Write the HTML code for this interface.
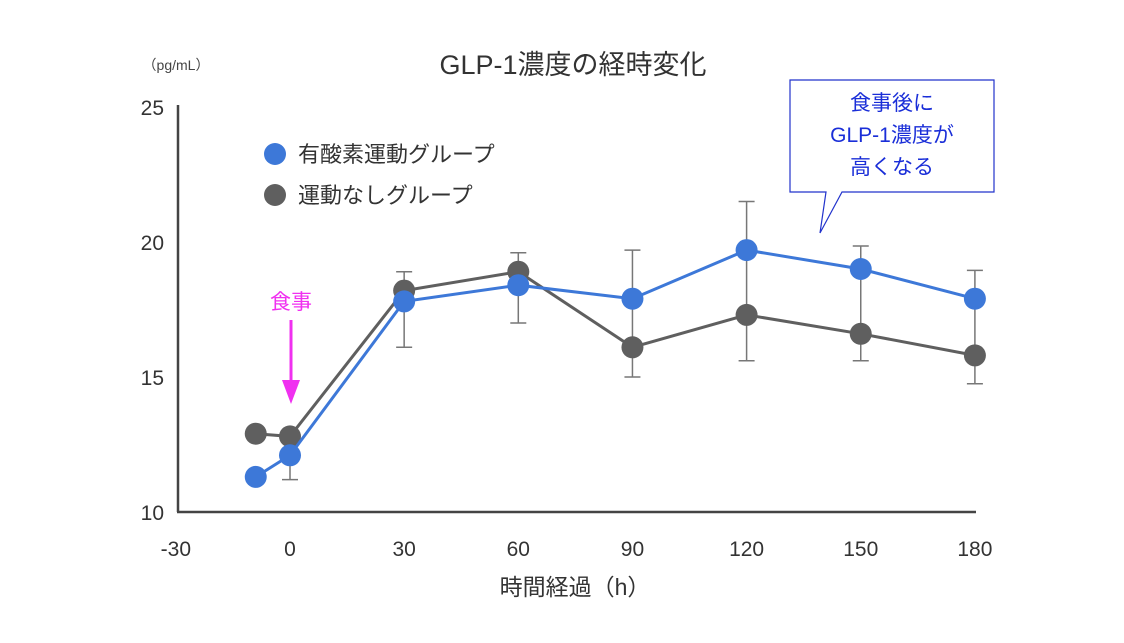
<!DOCTYPE html>
<html><head><meta charset="utf-8"><style>
body{margin:0;background:#fff;}
svg text{font-family:"Liberation Sans","Noto Sans CJK JP",sans-serif;}
</style></head><body>
<svg width="1124" height="638" viewBox="0 0 1124 638">
<text x="573" y="74" font-size="27" fill="#333" text-anchor="middle">GLP-1濃度の経時変化</text>
<text x="176" y="70" font-size="14" fill="#444" text-anchor="middle">（pg/mL）</text>
<g id="axes"></g>
<g id="errs"></g>
<g id="lines"></g>
<text x="291" y="309" font-size="21" fill="#f030f0" text-anchor="middle">食事</text>
<line x1="291" y1="320" x2="291" y2="383" stroke="#f030f0" stroke-width="3"/>
<polygon points="282,380 300,380 291,404" fill="#f030f0"/>
<circle cx="275" cy="154" r="11" fill="#3d78d8"/>
<text x="298" y="162" font-size="22" fill="#333">有酸素運動グループ</text>
<circle cx="275" cy="195" r="11" fill="#5f5f5f"/>
<text x="298" y="203" font-size="22" fill="#333">運動なしグループ</text>
<path d="M790,80 H994 V192 H842 L820,233 L826,192 H790 Z" fill="#fff" stroke="#2233cc" stroke-width="1.2"/>
<g font-size="21" fill="#1a2ed8" text-anchor="middle">
<text x="892" y="110">食事後に</text><text x="892" y="142">GLP-1濃度が</text><text x="892" y="174">高くなる</text></g>
<text x="575" y="595" font-size="23" fill="#333" text-anchor="middle">時間経過（h）</text>
</svg>
<script>
const xTicks=[-30,0,30,60,90,120,150,180];
const yTicks=[10,15,20,25];
const times=[-9,0,30,60,90,120,150,180];
const aerobic=[11.3,12.1,17.8,18.4,17.9,19.7,19.0,17.9];
const control=[12.9,12.8,18.2,18.9,16.1,17.3,16.6,15.8];
const errX=[0,30,60,90,120,150,180];
const errLow=[11.2,16.1,17.0,15.0,15.6,15.6,14.75];
const errHigh=[12.1,18.9,19.6,19.7,21.5,19.85,18.95];
const NS='http://www.w3.org/2000/svg';
const X=v=>290+(v)*3.805;
const Y=v=>512-(v-10)*27;
function mk(tag,attrs,parent){const e=document.createElementNS(NS,tag);for(const k in attrs)e.setAttribute(k,attrs[k]);document.getElementById(parent).appendChild(e);return e;}
let e;
e=mk('line',{x1:178,y1:105,x2:178,y2:512,stroke:'#444','stroke-width':2.5},'axes');


e=mk('line',{x1:177,y1:512,x2:976,y2:512,stroke:'#444','stroke-width':2.5},'axes');


xTicks.forEach(t=>{e=mk('text',{x:X(t),y:556,'font-size':21,fill:'#333','text-anchor':'middle'},'axes');e.textContent=t;

});
yTicks.forEach(t=>{e=mk('text',{x:164,y:Y(t)+8,'font-size':21,fill:'#333','text-anchor':'end'},'axes');e.textContent=t;

});
errX.forEach((t,i)=>{const x=X(t);
e=mk('path',{d:`M${x},${Y(errLow[i])}V${Y(errHigh[i])}M${x-8},${Y(errLow[i])}H${x+8}M${x-8},${Y(errHigh[i])}H${x+8}`,stroke:'#777','stroke-width':1.5,fill:'none'},'errs');

});
function series(vals,color,name){
e=mk('polyline',{points:times.map((t,i)=>X(t)+','+Y(vals[i])).join(' '),fill:'none',stroke:color,'stroke-width':3},'lines');


times.forEach((t,i)=>{e=mk('circle',{cx:X(t),cy:Y(vals[i]),r:11,fill:color},'lines');

});}
series(control,'#5f5f5f','control');
series(aerobic,'#3d78d8','aerobic');
</script>
</body></html>
